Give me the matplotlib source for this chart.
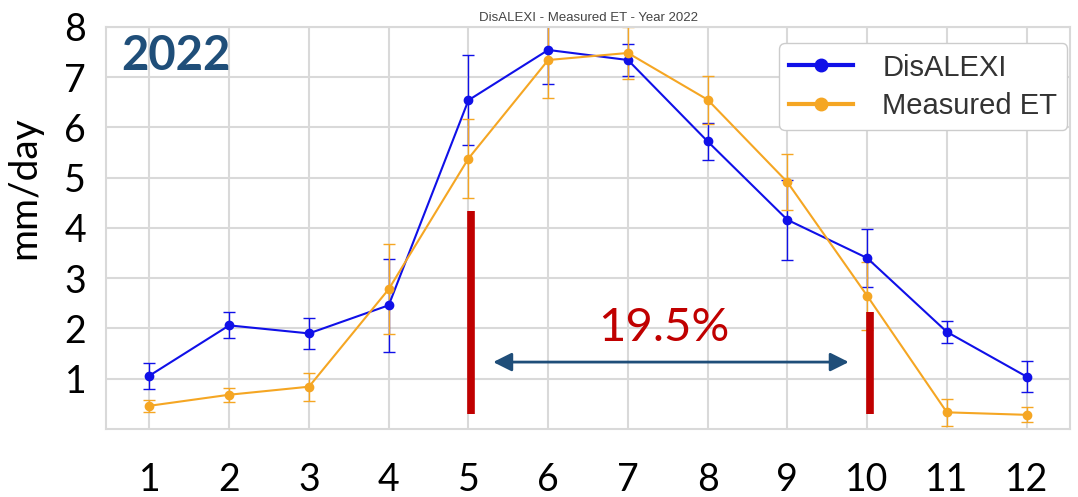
import matplotlib.pyplot as plt
from matplotlib.lines import Line2D

# Monthly mean ET (mm/day) with standard deviations
months = [1, 2, 3, 4, 5, 6, 7, 8, 9, 10, 11, 12]
disalexi = [1.06, 2.06, 1.90, 2.46, 6.54, 7.54, 7.34, 5.72, 4.16, 3.40, 1.93, 1.04]
disalexi_err = [0.26, 0.26, 0.31, 0.92, 0.89, 0.67, 0.31, 0.37, 0.80, 0.57, 0.22, 0.31]
measured = [0.46, 0.68, 0.84, 2.78, 5.38, 7.34, 7.48, 6.55, 4.91, 2.65, 0.33, 0.28]
measured_err = [0.12, 0.14, 0.28, 0.90, 0.78, 0.75, 0.51, 0.48, 0.55, 0.68, 0.27, 0.15]

# Growing season markers and the difference label
season_start, season_end = 5, 10
start_bar_top, end_bar_top, bar_bottom = 4.34, 2.32, 0.30
arrow_left, arrow_right, arrow_y = 5.31, 9.77, 1.33
diff_label = "19.5%"

blue = "#1010e8"
orange = "#f5a623"

fig = plt.figure(figsize=(10.78, 4.97), dpi=100)
ax = fig.add_axes([0.098, 0.137, 0.895, 0.809])

grid_col = "#d9d9d9"
ax.grid(True, color=grid_col, lw=1.5)
ax.set_axisbelow(True)
for s in ax.spines.values():
    s.set_color(grid_col)
    s.set_linewidth(1.5)

ax.errorbar(months, disalexi, yerr=disalexi_err, color=blue, marker="o", ms=6,
            lw=1.5, elinewidth=1, capsize=4)
ax.errorbar(months, measured, yerr=measured_err, color=orange, marker="o", ms=6,
            lw=1.5, elinewidth=1, capsize=4)

ax.set_xlim(0.45, 12.55)
ax.set_ylim(0, 8)
ax.set_xticks(months)
ax.set_yticks(range(1, 9))
ax.tick_params(length=0)
ax.tick_params(axis="x", pad=24)
ax.tick_params(axis="y", pad=14)
for lab in ax.get_xticklabels() + ax.get_yticklabels():
    lab.set_fontfamily("Lato")
    lab.set_fontsize(27)
ax.set_ylabel("mm/day", fontsize=28, family="Lato")
ax.yaxis.set_label_coords(-0.066, 0.6)

ax.set_title("DisALEXI - Measured ET - Year 2022", fontsize=9.5, color="#444444",
             family="Liberation Sans", pad=4)

# legend shows plain line + marker, no error bars
handles = [Line2D([], [], color=blue, lw=3, marker="o", ms=9),
           Line2D([], [], color=orange, lw=3, marker="o", ms=9)]
leg = ax.legend(handles, ["DisALEXI", "Measured ET"], loc="upper right",
                prop={"family": "Liberation Sans", "size": 21},
                framealpha=1, edgecolor="#cccccc", borderpad=0.35, handlelength=2.2,
                labelspacing=0.35, handletextpad=1.0, bbox_to_anchor=(1.012, 0.995))
for t in leg.get_texts():
    t.set_color("#333333")

# season start / end bars
ax.vlines([season_start + 0.03, season_end + 0.03], bar_bottom, [start_bar_top, end_bar_top],
          color="#c00000", lw=5.5)

ax.annotate("", xy=(arrow_right, arrow_y), xytext=(arrow_left, arrow_y),
            arrowprops=dict(arrowstyle="<|-|>", color="#1f4e79", lw=2, mutation_scale=28,
                            shrinkA=0, shrinkB=0))
ax.text(7.45, 2.0, diff_label, color="#c00000", fontsize=34, family="Lato",
        ha="center", va="center")

ax.text(0.64, 7.42, "2022", color="#1f4e79", fontsize=34, fontweight="bold",
        family="Lato", ha="left", va="center")

fig.savefig("out.png", dpi=100, facecolor="white")
